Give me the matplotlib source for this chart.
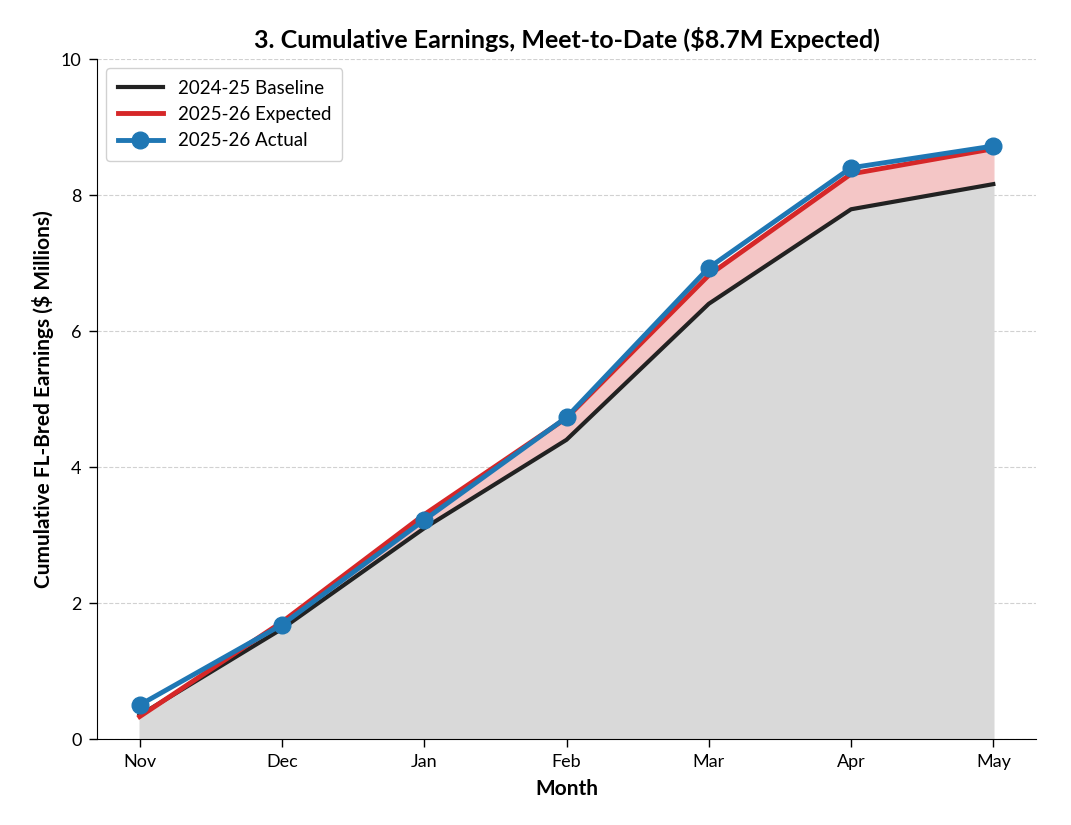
import matplotlib
matplotlib.use("Agg")
import matplotlib.pyplot as plt
import numpy as np

months = ["Nov", "Dec", "Jan", "Feb", "Mar", "Apr", "May"]
baseline = [0.35, 1.62, 3.10, 4.40, 6.40, 7.79, 8.16]
expected = [0.33, 1.72, 3.30, 4.72, 6.82, 8.31, 8.68]
actual = [0.50, 1.68, 3.22, 4.73, 6.93, 8.40, 8.72]

plt.rcParams['font.family'] = ['Lato', 'DejaVu Sans']

fig = plt.figure(figsize=(10.71, 8.25), dpi=100)
ax = fig.add_axes([97/1071, 1-739/825, (1036-97)/1071, (739-59)/825])

x = np.arange(len(months))
b = np.array(baseline)
e = np.array(expected)
ax.fill_between(x, 0, b, color='#d9d9d9', zorder=1)
ax.fill_between(x, b, e, where=e >= b, interpolate=True, color='#f4c6c6', zorder=1)
ax.plot(x, baseline, color='#222222', lw=3, label='2024-25 Baseline', zorder=3)
ax.plot(x, expected, color='#d62728', lw=3.5, label='2025-26 Expected', zorder=4)
ax.plot(x, actual, color='#1f77b4', lw=3.5, marker='o', markersize=12, label='2025-26 Actual', zorder=5)

ax.set_xticks(x)
ax.set_xticklabels(months)
ax.set_ylim(0, 10)
ax.set_yticks([0, 2, 4, 6, 8, 10])
ax.tick_params(labelsize=13, length=6, width=1, pad=5)
ax.grid(axis='y', linestyle='--', color='#cccccc', alpha=0.9)
ax.set_axisbelow(True)
for s in ['top', 'right']:
    ax.spines[s].set_visible(False)

ax.set_xlabel('Month', fontsize=15, fontweight='bold', labelpad=6)
ax.set_ylabel('Cumulative FL-Bred Earnings ($ Millions)', fontsize=15, fontweight='bold', labelpad=5)
ax.set_title('3. Cumulative Earnings, Meet-to-Date ($8.7M Expected)', fontsize=18, fontweight='bold', pad=8)
ax.legend(loc='upper left', fontsize=13.5, framealpha=0.9, handlelength=2.4, borderpad=0.6)

fig.savefig('out.png', dpi=100)
